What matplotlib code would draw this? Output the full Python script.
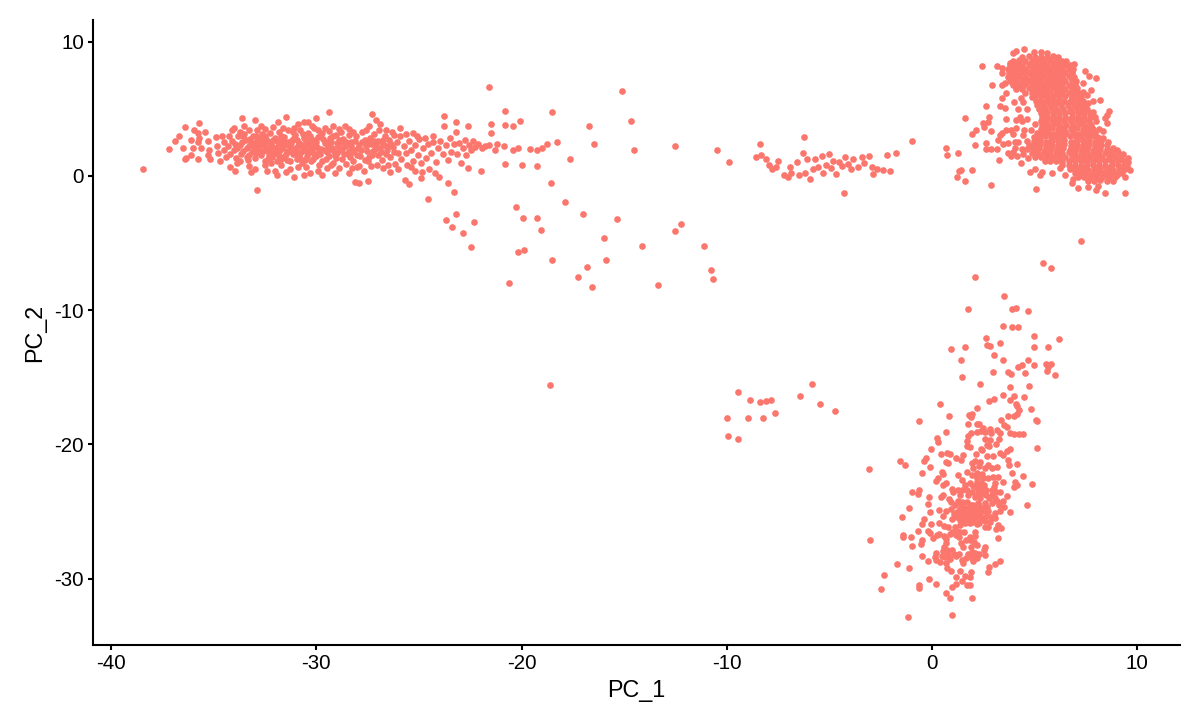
import numpy as np
import matplotlib
matplotlib.use("Agg")
import matplotlib.pyplot as plt

plt.rcParams['font.family'] = ['Liberation Sans', 'DejaVu Sans']
plt.rcParams['axes.unicode_minus'] = False

# points, (PC_1, PC_2), one list per region
band_edge = [
    (-38.46,0.55),(-37.2,2.04),(-36.9,2.63),(-36.7,2.98),(-36.4,3.65),(-36.5,2.09),(-36.4,1.24),(-36.35,1.37),
    (-36.1,2.68),(-35.95,3.4),(-35.7,3.98),(-35.75,3.18),(-35.7,2.8),(-35.77,2.51),(-36.0,2.09),(-35.6,2.06),
    (-36.1,1.57),(-35.75,1.27),(-35.4,3.25),(-35.3,2.6),(-35.25,1.9),(-35.3,1.55),(-35.2,1.25),(-34.9,2.9),
    (-34.85,2.2),(-34.8,1.7),(-34.7,1.1),(-34.6,3.0),(-34.5,2.5),(-34.5,1.95),(-34.4,1.4),(-34.2,0.7),(-34.1,3.4),
    (-34.0,3.6),(-33.85,0.95),(-33.95,0.4),(-33.6,4.3),(-33.5,3.7),(-33.3,0.75),(-33.2,0.3),(-33.0,4.15),(-32.9,-1.05),
    (-33.0,0.55),(-32.7,3.75),(-32.5,0.85),(-32.4,0.35),(-32.1,3.65),(-32.0,0.4),(-31.9,0.05),(-31.85,4.05),(-31.5,4.4),
    (-31.5,0.3),(-31.3,0.55),(-31.1,-0.1),(-30.9,3.9),(-30.6,4.05),(-30.6,0.1),(-30.3,0.2),(-30.4,4.0),(-30.0,4.3),
    (-29.9,0.35),(-29.7,0.05),(-29.6,3.6),(-29.4,4.75),(-29.2,3.75),(-29.1,0.2),(-28.9,0.6),(-28.6,3.7),(-28.4,3.5),
    (-28.4,0.25),(-28.1,-0.45),(-27.9,-0.5),(-27.9,0.75),(-27.5,-0.4),(-27.3,4.6),(-27.1,4.2),(-26.9,3.85),(-26.6,3.4),
    (-26.5,0.85),(-26.4,0.3),(-26.0,0.55),(-25.9,3.6),(-25.7,-0.3),(-25.5,-0.6),(-25.3,3.2),(-25.2,0.4),(-24.9,-0.15),
    (-24.85,0.3),(-24.7,2.8),(-24.5,0.55),(-24.3,3.0),(-24.2,0.2),(-24.0,-0.1),(-23.8,3.7),
    (-33.7,3.3),(-33.3,3.45),(-32.9,3.4),(-32.5,3.5),(-32.2,0.95),(-31.7,0.8),(-31.6,3.55),(-31.1,3.6),(-30.9,0.7),
    (-30.5,0.65),(-30.2,3.7),(-29.9,3.45),(-29.5,0.6),(-29.3,0.85),(-28.8,3.25),(-28.2,3.3),(-28.25,0.6),(-27.6,3.45),
    (-27.35,0.75),(-26.75,0.6),(-26.2,3.05),(-25.65,3.1),(-25.4,0.7),(-25.1,3.0),
]
band_core = [
    (-34.1,2.6),(-34.0,1.9),(-33.9,1.35),(-33.8,2.95),(-33.7,2.3),(-33.65,1.65),(-33.5,3.15),(-33.45,2.7),(-33.4,2.05),
    (-33.35,1.2),(-33.2,2.4),(-33.15,1.75),(-33.1,3.0),(-33.0,1.35),(-32.9,2.6),(-32.85,2.05),(-32.7,1.55),(-32.65,3.1),
    (-32.6,2.3),(-32.5,1.15),(-32.45,2.75),(-32.35,1.85),(-32.25,3.2),(-32.2,2.4),(-32.15,1.4),(-32.05,2.05),(-32.0,2.85),
    (-31.9,1.15),(-31.85,1.7),(-31.8,3.3),(-31.75,2.5),(-31.65,2.1),(-31.6,1.4),(-31.55,2.9),(-31.45,1.85),(-31.4,3.45),
    (-31.35,2.3),(-31.3,1.1),(-31.2,2.65),(-31.15,1.6),(-31.05,3.05),(-31.0,2.05),(-30.95,1.3),(-30.85,2.45),(-30.8,3.4),
    (-30.75,1.8),(-30.7,0.95),(-30.6,2.85),(-30.55,2.2),(-30.45,1.5),(-30.4,3.2),(-30.3,2.55),(-30.25,1.1),(-30.2,1.9),
    (-30.1,3.55),(-30.05,2.3),(-30.0,1.45),(-29.9,2.9),(-29.85,0.85),(-29.75,2.0),(-29.7,3.2),(-29.6,2.45),(-29.55,1.3),
    (-29.5,1.75),(-29.4,3.35),(-29.35,2.8),(-29.25,2.1),(-29.2,1.0),(-29.1,1.55),(-29.05,3.05),(-29.0,2.45),(-28.9,3.5),
    (-28.85,1.9),(-28.75,1.25),(-28.7,2.75),(-28.6,2.2),(-28.55,0.9),(-28.45,1.6),(-28.4,3.05),(-28.3,2.5),(-28.2,1.15),
    (-28.15,1.95),(-28.05,2.95),(-28.0,0.7),(-27.9,2.3),(-27.85,1.5),(-27.75,3.25),(-27.7,0.4),(-27.65,2.7),(-27.55,1.85),
    (-27.5,1.1),(-27.45,3.7),(-27.35,2.35),(-27.3,1.55),(-27.2,3.1),(-27.15,2.0),(-27.05,0.8),(-27.0,2.6),(-26.95,3.4),
    (-26.85,1.75),(-26.8,1.2),(-26.7,2.3),(-26.65,3.0),(-26.55,1.95),(-26.45,2.65),(-26.4,1.4),(-26.3,3.3),(-26.25,2.15),
    (-26.15,0.9),(-26.05,2.55),(-26.0,1.7),(-25.9,2.95),(-25.85,1.25),(-25.75,2.2),(-25.65,1.7),(-25.6,0.85),(-25.5,2.6),
    (-25.4,1.95),(-25.3,1.15),(-25.2,2.3),(-25.05,1.55),(-25.0,2.75),(-24.9,0.95),(-24.8,2.05),(-24.65,1.35),(-24.55,2.35),
    (-24.4,1.7),(-24.3,2.55),(-24.15,1.05),(-24.05,2.1),(-23.95,2.6),(-23.85,1.6),(-23.7,2.3),(-23.6,1.2),(-23.5,2.8),
    (-23.45,1.8),(-23.3,2.35),(-23.2,3.3),(-23.15,1.6),(-23.05,2.45),(-22.95,0.95),(-22.85,2.05),(-22.75,2.7),(-22.7,1.55),
    (-22.55,2.3),(-22.45,1.95),(-22.35,2.6),(-22.25,2.15),(-22.1,2.35),(-21.95,2.1),(-21.8,2.25),
]
band_dense = [
    (-33.85,2.1),(-33.6,2.55),(-33.3,1.55),(-33.25,2.75),(-33.0,2.25),(-32.8,1.8),(-32.75,2.85),(-32.55,2.55),(-32.4,2.05),
    (-32.3,1.55),(-32.1,2.65),(-31.95,1.95),(-31.85,2.25),(-31.7,1.3),(-31.6,2.7),(-31.5,1.65),(-31.25,2.1),(-31.1,2.85),
    (-31.0,1.6),(-30.9,2.25),(-30.65,1.95),(-30.5,2.6),(-30.35,1.75),(-30.15,2.7),(-29.95,2.15),(-29.8,1.6),(-29.65,2.75),
    (-29.45,2.2),(-29.3,2.55),(-29.15,1.85),(-28.95,2.2),(-28.8,2.55),(-28.65,1.65),(-28.5,2.35),(-28.25,1.75),(-28.1,2.6),
    (-27.95,2.1),(-27.6,2.2),(-27.4,2.85),(-27.25,1.85),(-27.1,2.3),(-26.9,2.1),(-26.75,2.7),(-26.6,1.6),(-26.35,2.35),
    (-33.1,2.45),(-32.95,1.7),(-32.2,1.8),(-31.8,1.5),(-31.4,2.55),(-30.8,1.35),(-30.15,1.3),(-29.05,1.35),(-28.35,1.4),
    (-33.55,1.85),(-33.4,1.4),(-33.3,2.25),(-33.05,2.05),(-32.95,2.95),(-32.75,2.35),(-32.6,1.85),(-32.5,2.95),(-32.35,1.25),
    (-32.3,2.55),(-32.15,2.15),(-32.0,1.7),(-31.9,2.6),(-31.75,1.9),(-31.7,3.0),(-31.55,2.3),(-31.45,1.2),(-31.3,1.85),
    (-31.25,2.45),(-31.15,3.3),(-31.05,1.9),(-30.95,2.65),(-30.85,1.6),(-30.7,2.3),(-30.65,3.1),(-30.5,1.85),(-30.45,2.35),
    (-30.3,2.95),(-30.25,2.05),(-30.1,1.6),(-30.0,2.5),(-29.85,1.85),(-29.8,3.0),(-29.6,1.95),(-29.55,2.55),(-29.4,1.45),
    (-29.3,2.0),(-29.2,2.95),(-29.0,1.7),(-28.9,2.7),(-28.75,2.0),(-28.55,2.5),(-28.4,1.85),(-28.3,2.2),(-28.0,1.55),
    (-27.8,1.95),(-27.75,2.55),(-27.55,2.5),(-27.45,1.4),(-27.2,2.6),(-27.0,1.55),(-26.8,2.5),(-26.5,2.2),(-26.2,1.75),
    (-34.3,2.2),(-34.2,1.6),(-34.25,2.95),(-33.95,2.4),(-33.7,1.15),(-33.55,2.95),(-30.55,1.2),(-29.7,1.15),(-27.65,1.2),
]
scatter_mid = [
    (-21.6,6.6),(-15.1,6.3),(-20.8,4.85),(-18.5,4.75),(-23.8,4.5),(-14.65,4.1),(-20.1,4.1),(-21.5,3.9),(-20.8,3.8),
    (-20.4,3.75),(-16.7,3.7),(-22.6,3.75),(-23.2,4.05),(-21.5,3.2),(-16.45,2.35),(-18.25,2.55),(-18.75,2.4),(-19.0,2.1),
    (-19.25,1.95),(-19.6,2.0),(-20.15,2.05),(-20.4,1.9),(-20.85,2.25),(-21.2,2.35),(-21.3,1.95),(-21.6,2.3),(-14.5,1.95),
    (-12.5,2.2),(-10.5,1.9),(-9.9,1.05),(-17.65,1.3),(-20.8,0.9),(-20.0,0.85),(-19.25,0.75),(-22.0,0.4),(-22.6,0.6),
    (-18.55,-0.55),(-23.6,-0.5),(-23.3,-1.2),(-24.55,-1.7),(-17.9,-1.95),(-20.25,-2.3),(-17.0,-2.8),(-23.2,-2.85),
    (-19.95,-3.1),(-19.25,-3.15),(-15.35,-3.2),(-23.7,-3.3),(-22.3,-3.4),(-23.4,-3.8),(-19.05,-4.05),(-12.25,-3.6),
    (-12.5,-4.1),(-22.85,-4.25),(-16.0,-4.6),(-22.45,-5.3),(-14.15,-5.2),(-11.1,-5.2),(-19.9,-5.5),(-20.15,-5.7),
    (-18.5,-6.3),(-15.9,-6.3),(-16.8,-6.8),(-10.75,-7.0),(-10.65,-7.65),(-17.25,-7.5),(-20.6,-7.95),(-16.55,-8.3),
    (-13.35,-8.15),(-18.6,-15.6),
]
ridge_mid = [
    (-8.4,2.4),(-8.35,1.55),(-8.1,1.25),(-7.95,0.85),(-7.6,0.7),(-7.5,1.15),(-7.2,0.1),(-7.0,-0.1),(-6.85,0.25),(-6.6,1.05),
    (-6.5,0.1),(-6.3,1.7),(-6.25,2.9),(-6.2,0.2),(-6.1,1.3),(-5.95,-0.25),(-5.8,0.55),(-5.7,1.3),(-5.55,0.7),(-5.35,1.45),
    (-5.3,0.2),(-5.15,0.85),(-5.0,1.6),(-4.9,0.6),(-4.7,0.15),(-4.55,1.05),(-4.4,0.75),(-4.3,-1.3),(-4.25,1.4),(-4.1,0.9),
    (-3.95,0.55),(-3.85,1.3),(-3.6,0.65),(-3.4,1.4),(-3.3,0.95),(-3.05,1.45),(-2.95,0.65),(-2.9,0.15),(-2.7,0.5),
    (-2.4,0.45),(-2.2,1.55),(-2.05,0.35),(-1.75,1.7),(-1.0,2.6),(-8.6,1.4),(-7.8,0.55),(-6.9,0.65),(-4.85,1.15),
]
island = [
    (-10.0,-18.05),(-9.45,-16.1),(-9.95,-19.4),(-9.45,-19.6),(-8.85,-16.7),(-8.95,-18.0),(-8.4,-16.85),(-8.1,-16.8),
    (-7.85,-16.7),(-8.25,-18.05),(-7.65,-17.65),(-6.45,-16.4),(-5.85,-15.5),(-5.45,-17.0),(-4.75,-17.5),
]
lower_upper = [
    (7.25,-4.85),(5.4,-6.5),(5.8,-6.85),(2.11,-7.52),(3.49,-8.91),(1.75,-9.88),(3.91,-9.91),(4.11,-9.83),(4.69,-10.06),
    (3.44,-11.17),(3.91,-11.25),(4.17,-11.25),(4.97,-11.89),(6.2,-12.14),(2.63,-12.07),(3.29,-12.46),(2.68,-12.56),
    (2.82,-12.64),(1.61,-12.74),(0.94,-12.89),(4.98,-12.74),(5.67,-12.74),(3.04,-13.36),(1.43,-13.68),(3.46,-13.73),
    (4.69,-13.73),(4.97,-14.08),(4.4,-14.08),(4.17,-14.2),(5.54,-14.03),(5.78,-14.0),(5.67,-14.2),(5.58,-14.5),
    (5.97,-14.82),(2.99,-14.63),(3.72,-14.63),(3.83,-14.78),(4.53,-14.68),(1.48,-15.0),(2.34,-15.5),(3.78,-15.72),
    (4.71,-15.62),(3.46,-16.34),(3.98,-16.41),(3.78,-16.66),(4.5,-16.44),(3.04,-16.61),(2.79,-16.76),(0.39,-16.96),
    (4.07,-16.99),(4.16,-17.13),(2.21,-17.28),(4.8,-17.38),(4.24,-17.43),(4.12,-17.76),(3.99,-17.86),(3.72,-17.88),
    (0.83,-17.86),(1.78,-17.78),(1.93,-17.73),(1.88,-17.93),(-0.64,-18.23),(5.05,-18.18),(5.1,-18.28),(3.38,-18.2),
    (1.77,-18.48),(2.21,-18.45),(2.29,-18.48),(3.49,-18.55),(3.64,-18.7),(2.5,-18.75),(2.84,-18.87),(3.18,-18.92),
    (0.7,-19.05),(2.21,-19.07),(2.37,-19.02),(2.58,-19.1),(2.87,-19.15),(3.31,-19.17),(3.8,-19.12),(3.99,-19.2),
    (4.22,-19.2),(4.43,-19.25),(1.88,-19.12),(1.77,-19.35),(0.23,-19.49),(0.31,-19.84),(2.58,-19.62),(2.82,-19.67),
    (3.26,-19.62),(3.1,-19.97),(1.72,-19.74),(1.69,-20.09),(1.85,-20.19),(2.66,-20.04),(2.78,-20.12),(-0.03,-20.36),
    (5.1,-20.29),(3.8,-20.31),(2.37,-20.36),
]
lower_main = [
    (-3.07,-21.83),(-1.56,-21.21),(-1.33,-21.56),(-0.29,-21.04),(-0.38,-21.26),(-0.1,-21.68),(-0.47,-22.13),(0.42,-20.69),
    (0.71,-20.61),(0.87,-20.71),(1.17,-21.01),(1.43,-21.19),(1.52,-20.79),(0.68,-21.28),(0.79,-21.36),(2.12,-20.71),
    (2.42,-20.42),(2.66,-20.84),(2.95,-20.89),(3.31,-20.61),(3.47,-20.79),(3.64,-20.49),(3.72,-21.16),(3.75,-21.56),
    (4.16,-21.46),(3.91,-22.15),(4.45,-22.35),(4.85,-22.97),(4.04,-22.77),(4.12,-23.02),(3.99,-23.17),(3.47,-22.8),
    (3.64,-23.82),(4.64,-24.54),(3.81,-25.06),(0.47,-22.03),(0.55,-22.2),(0.31,-22.53),(0.18,-22.7),(1.25,-22.3),
    (1.44,-22.65),(1.69,-22.03),(1.93,-21.41),(2.09,-21.21),(2.34,-21.28),(2.58,-21.78),(2.74,-21.53),(2.94,-21.78),
    (3.15,-21.66),(2.01,-21.78),(2.17,-22.15),(2.42,-22.2),(1.93,-22.28),(2.74,-22.53),(2.95,-22.45),(3.23,-22.4),
    (3.07,-22.9),(2.91,-23.4),(3.12,-23.52),(3.31,-23.57),(0.55,-23.02),(0.68,-22.9),(0.96,-23.32),(1.04,-23.52),
    (1.61,-23.02),(1.85,-22.85),(2.17,-22.77),(2.37,-22.9),(2.17,-23.27),(2.42,-23.27),(2.63,-23.4),(2.5,-23.64),
    (2.26,-23.64),(2.63,-23.77),(1.28,-23.4),(1.44,-23.4),(1.69,-23.4),(1.36,-23.77),(-0.99,-23.52),(-0.62,-23.37),
    (-0.67,-23.67),(-0.15,-23.94),(-0.2,-24.44),(-1.12,-24.74),(-0.1,-25.01),(-1.45,-25.38),(0.55,-23.77),(0.44,-23.89),
    (0.84,-24.09),(0.91,-24.31),(0.34,-24.91),(0.68,-24.96),(0.91,-24.79),(0.52,-25.33),(1.12,-24.51),(1.44,-24.27),
    (1.69,-24.27),(2.26,-24.34),(2.58,-24.39),(2.91,-24.39),(3.15,-24.22),(3.44,-24.22),(3.28,-24.51),(1.52,-24.64),
    (1.77,-24.76),(2.09,-24.76),(2.5,-24.76),(2.74,-24.94),(3.07,-25.09),(1.2,-25.01),(1.52,-25.09),(1.69,-25.01),
    (1.93,-25.13),(2.17,-25.13),(2.34,-25.26),(2.66,-25.26),(3.07,-25.46),(0.96,-25.53),(1.2,-25.43),(1.52,-25.38),
    (1.69,-25.51),(1.88,-25.58),(2.09,-25.51),(2.34,-25.63),(2.58,-25.71),(2.82,-25.76),(-0.39,-25.58),(-0.51,-25.93),
    (-0.03,-25.93),(0.36,-25.88),(-0.7,-26.43),(-0.18,-26.45),(-0.1,-26.63),(0.6,-26.08),(0.79,-26.18),(1.12,-26.18),
    (1.36,-26.0),(1.6,-25.88),(1.85,-25.88),(2.17,-25.93),(2.58,-26.18),(2.74,-26.13),(3.23,-26.03),(3.1,-26.33),
    (3.36,-26.25),(1.2,-26.43),(1.36,-26.5),(1.56,-26.53),(2.09,-26.5),(-1.4,-26.75),(-1.4,-26.92),(-1.01,-26.87),
    (-0.47,-27.12),(-0.54,-27.42),(-0.99,-27.57),(-3.02,-27.12),(0.03,-27.0),(0.23,-26.75),(0.36,-26.7),(0.58,-26.82),
    (0.68,-27.07),(0.87,-26.67),(1.33,-26.87),(1.85,-26.87),(2.09,-26.82),(1.85,-27.12),(3.23,-27.0),(0.68,-27.32),
    (1.41,-27.37),(1.49,-27.67),(2.19,-27.49),(1.88,-27.62),(2.58,-27.62),(2.53,-27.87),(0.58,-27.67),(0.74,-27.87),
    (0.55,-27.92),(1.93,-27.99),(2.09,-28.12),(2.56,-28.26),(-0.51,-28.34),(0.21,-28.12),(0.14,-28.41),(-0.18,-28.66),
    (0.19,-28.61),(0.39,-28.74),(0.63,-28.41),(0.79,-28.24),(1.09,-28.19),(0.87,-28.56),(0.68,-28.86),(1.44,-28.61),
    (1.65,-28.49),(1.93,-28.49),(2.17,-28.49),(2.01,-28.69),(1.52,-28.86),(3.33,-28.66),(3.07,-28.89),(2.77,-29.11),
    (2.73,-29.51),(-1.71,-28.94),(-1.14,-29.23),(0.74,-29.23),(0.91,-29.41),(1.36,-29.46),(1.88,-29.53),(1.85,-29.85),
    (1.17,-29.85),(1.6,-29.8),(1.44,-30.18),(-2.34,-29.75),(-0.15,-30.0),(0.18,-30.38),(-0.62,-30.48),(-0.65,-30.72),
    (-2.47,-30.75),(1.17,-30.4),(0.99,-30.6),(1.69,-30.5),(1.85,-30.5),(0.7,-31.1),(0.89,-31.42),(1.96,-31.44),
    (0.99,-32.74),(-1.17,-32.88),
]
lower_dense = [
    (1.35,-24.85),(1.6,-24.85),(1.85,-24.95),(2.0,-24.5),(2.2,-24.95),(2.4,-25.0),(2.6,-25.0),(1.35,-25.25),(1.75,-25.3),
    (2.0,-25.35),(2.2,-25.45),(2.45,-25.45),(1.05,-25.2),(1.35,-25.65),(1.55,-25.7),(1.75,-25.75),(1.95,-25.8),(2.3,-25.85),
    (2.6,-25.5),(2.85,-25.4),(1.4,-24.45),(1.9,-24.55),(2.3,-24.6),(2.7,-24.65),(1.25,-24.2),(2.1,-23.9),(2.35,-24.0),
    (2.75,-24.0),(2.55,-23.05),(2.2,-23.05),(2.35,-23.5),(3.0,-23.2),(1.15,-26.75),(0.95,-26.5),(1.65,-27.15),(2.05,-27.3),
    (0.95,-27.9),(1.15,-28.35),(1.75,-28.15),(2.3,-28.15),(1.3,-28.2),(0.5,-28.3),
    (2.3,-21.6),(2.5,-22.5),(2.2,-22.5),(2.0,-23.1),(1.75,-23.75),(2.9,-23.75),(3.05,-24.0),(1.95,-23.55),(3.3,-25.0),(3.5,-24.7),
]
blob_fringe = [
    (2.44,8.17),(2.94,6.78),(2.63,5.24),(1.59,4.33),(2.79,4.42),(2.5,3.95),(2.71,4.05),(2.52,3.63),(2.16,3.46),(1.93,3.16),
    (2.87,3.36),(2.08,2.34),(2.65,2.44),(2.61,2.01),(2.86,1.99),(3.15,2.01),(0.7,2.06),(0.75,1.54),(1.25,1.74),(3.26,1.22),
    (1.93,0.43),(1.41,0.47),(1.32,0.37),(1.2,-0.05),(1.59,-0.37),(2.89,-0.69),(5.05,-0.94),(4.32,0.95),(4.79,0.28),(5.02,0.5),
    (5.26,0.05),(5.34,0.28),(5.83,0.23),(6.48,0.08),(6.8,-0.54),(6.89,-0.22),(7.11,-0.92),(7.58,-0.79),(7.97,-1.04),(8.07,-0.72),
    (8.43,-1.26),(9.42,-1.26),(9.4,-0.1),(9.65,0.43),(6.24,0.62),(3.39,5.79),(3.59,6.16),(3.31,5.24),(3.54,5.1),(3.98,5.49),
    (4.21,5.02),(4.34,5.79),(4.45,5.54),(4.63,4.99),(3.59,4.25),(4.09,4.18),(4.29,4.42),(4.37,4.1),(4.61,4.23),(5.02,3.9),
    (3.59,3.43),(3.39,3.18),(3.31,3.06),(3.83,3.43),(4.09,3.55),(3.96,3.13),(4.48,3.43),(4.45,3.06),(4.81,3.43),(3.23,2.69),
    (3.44,2.36),(3.72,2.44),(4.04,2.51),(4.21,2.51),(4.04,2.06),(4.37,2.01),(3.72,1.69),(3.83,1.52),(4.16,1.52),(4.42,1.62),
    (4.69,1.32),(3.96,1.77),(3.18,8.2),(3.39,8.03),(3.43,7.65),(3.39,6.78),(3.56,6.91),(3.93,9.14),(4.09,9.32),(4.48,9.47),
    (3.8,8.4),(6.92,8.32),(7.44,7.83),(7.65,7.45),(7.97,7.3),(7.37,6.96),(7.76,6.44),(7.37,6.29),(7.54,6.04),(8.17,5.67),
    (7.83,5.57),(7.62,5.47),(8.61,4.85),(8.54,4.55),(8.43,4.35),(8.51,3.98),(7.86,4.8),(7.94,4.42),(7.99,4.13),(7.73,3.68),
    (8.14,3.48),(8.35,3.36),(8.02,2.93),(8.35,2.81),(8.59,2.51),
]
blob_core = [
    (4.95,9.2),(5.3,9.25),(5.6,9.15),
    (4.4,8.9),(4.7,8.95),(5.0,8.85),(5.3,8.9),(5.6,8.85),(5.9,8.95),(6.15,8.85),
    (3.95,8.6),(4.25,8.65),(4.55,8.55),(4.85,8.6),(5.15,8.6),(5.45,8.55),(5.75,8.65),(6.05,8.55),(6.35,8.6),(6.55,8.55),
    (3.8,8.3),(4.1,8.25),(4.4,8.3),(4.7,8.3),(5.0,8.25),(5.3,8.3),(5.6,8.3),(5.9,8.25),(6.2,8.3),(6.5,8.3),(6.72,8.25),
    (3.7,8.0),(3.95,8.0),(4.25,8.05),(4.55,7.95),(4.85,8.0),(5.15,8.0),(5.45,8.05),(5.75,7.95),(6.05,8.0),(6.35,8.0),(6.65,7.95),(6.85,8.0),
    (3.75,7.7),(4.1,7.7),(4.4,7.75),(4.7,7.65),(5.0,7.7),(5.3,7.7),(5.6,7.75),(5.9,7.65),(6.2,7.7),(6.5,7.7),(6.8,7.7),
    (3.7,7.4),(3.95,7.4),(4.25,7.45),(4.55,7.35),(4.85,7.4),(5.15,7.4),(5.45,7.45),(5.75,7.35),(6.05,7.4),(6.35,7.4),(6.65,7.45),(6.92,7.35),
    (3.8,7.1),(4.1,7.1),(4.4,7.15),(4.7,7.05),(5.0,7.1),(5.3,7.1),(5.6,7.15),(5.9,7.05),(6.2,7.1),(6.5,7.1),(6.8,7.15),(7.02,7.05),
    (3.95,6.8),(4.25,6.8),(4.55,6.85),(4.85,6.75),(5.15,6.8),(5.45,6.8),(5.75,6.85),(6.05,6.75),(6.35,6.8),(6.65,6.8),(6.95,6.85),
    (4.1,6.5),(4.4,6.5),(4.7,6.55),(5.0,6.45),(5.3,6.5),(5.6,6.5),(5.9,6.55),(6.2,6.45),(6.5,6.5),(6.8,6.5),(7.05,6.55),
    (4.55,6.2),(4.85,6.2),(5.15,6.25),(5.45,6.15),(5.75,6.2),(6.05,6.2),(6.35,6.25),(6.65,6.15),(6.95,6.2),(7.15,6.2),
    (4.85,5.9),(5.0,5.9),(5.3,5.95),(5.6,5.85),(5.9,5.9),(6.2,5.9),(6.5,5.95),(6.8,5.85),(7.1,5.9),(7.28,5.9),
    (5.05,5.6),(5.25,5.6),(5.55,5.65),(5.85,5.55),(6.15,5.6),(6.45,5.6),(6.75,5.65),(7.05,5.55),(7.35,5.6),
    (5.1,5.3),(5.4,5.3),(5.7,5.35),(6.0,5.25),(6.3,5.3),(6.6,5.3),(6.9,5.35),(7.2,5.25),(7.45,5.3),
    (5.2,5.0),(5.5,5.0),(5.8,5.05),(6.1,4.95),(6.4,5.0),(6.7,5.0),(7.0,5.05),(7.3,4.95),(7.55,5.0),
    (5.3,4.7),(5.6,4.7),(5.9,4.75),(6.2,4.65),(6.5,4.7),(6.8,4.7),(7.1,4.75),(7.4,4.65),(7.68,4.7),
    (5.35,4.4),(5.6,4.4),(5.9,4.45),(6.2,4.35),(6.5,4.4),(6.8,4.4),(7.1,4.45),(7.4,4.35),(7.7,4.4),
    (5.3,4.1),(5.55,4.1),(5.85,4.15),(6.15,4.05),(6.45,4.1),(6.75,4.1),(7.05,4.15),(7.35,4.05),(7.65,4.1),
    (5.35,3.8),(5.65,3.8),(5.95,3.85),(6.25,3.75),(6.55,3.8),(6.85,3.8),(7.15,3.85),(7.45,3.75),(7.72,3.8),
    (5.3,3.5),(5.55,3.5),(5.85,3.55),(6.15,3.45),(6.45,3.5),(6.75,3.5),(7.05,3.55),(7.35,3.45),(7.65,3.5),(7.85,3.5),
    (5.1,3.2),(5.35,3.2),(5.65,3.25),(5.95,3.15),(6.25,3.2),(6.55,3.2),(6.85,3.25),(7.15,3.15),(7.45,3.2),(7.75,3.2),(7.95,3.2),
    (4.95,2.9),(5.2,2.9),(5.5,2.95),(5.8,2.85),(6.1,2.9),(6.4,2.9),(6.7,2.95),(7.0,2.85),(7.3,2.9),(7.6,2.9),(7.9,2.95),(8.12,2.85),
    (4.65,2.6),(4.95,2.6),(5.25,2.65),(5.55,2.55),(5.85,2.6),(6.15,2.6),(6.45,2.65),(6.75,2.55),(7.05,2.6),(7.35,2.6),(7.65,2.65),(7.95,2.55),(8.25,2.6),
    (4.7,2.3),(4.95,2.3),(5.25,2.35),(5.55,2.25),(5.85,2.3),(6.15,2.3),(6.45,2.35),(6.75,2.25),(7.05,2.3),(7.35,2.3),(7.65,2.35),(7.95,2.25),(8.25,2.3),(8.5,2.3),
    (4.65,2.0),(4.9,2.0),(5.2,2.05),(5.5,1.95),(5.8,2.0),(6.1,2.0),(6.4,2.05),(6.7,1.95),(7.0,2.0),(7.3,2.0),(7.6,2.05),(7.9,1.95),(8.2,2.0),(8.5,2.0),(8.8,2.05),(9.0,1.95),
    (4.85,1.7),(5.15,1.7),(5.45,1.75),(5.75,1.65),(6.05,1.7),(6.35,1.7),(6.65,1.75),(6.95,1.65),(7.25,1.7),(7.55,1.7),(7.85,1.75),(8.15,1.65),(8.45,1.7),(8.75,1.7),(9.05,1.75),(9.3,1.65),
    (5.0,1.4),(5.3,1.4),(5.6,1.45),(5.9,1.35),(6.2,1.4),(6.5,1.4),(6.8,1.45),(7.1,1.35),(7.4,1.4),(7.7,1.4),(8.0,1.45),(8.3,1.35),(8.6,1.4),(8.9,1.4),(9.2,1.45),(9.55,1.35),
    (5.5,1.1),(5.75,1.1),(6.05,1.15),(6.35,1.05),(6.65,1.1),(6.95,1.1),(7.25,1.15),(7.55,1.05),(7.85,1.1),(8.15,1.1),(8.45,1.15),(8.75,1.05),(9.05,1.1),(9.35,1.1),(9.55,1.05),
    (6.35,0.8),(6.65,0.8),(6.95,0.85),(7.25,0.75),(7.55,0.8),(7.85,0.8),(8.15,0.85),(8.45,0.75),(8.75,0.8),(9.05,0.8),(9.35,0.85),(9.5,0.75),
    (6.7,0.5),(7.0,0.5),(7.3,0.55),(7.6,0.45),(7.9,0.5),(8.2,0.5),(8.5,0.55),(8.8,0.45),(9.1,0.5),(9.4,0.5),
    (6.95,0.2),(7.2,0.2),(7.5,0.25),(7.8,0.15),(8.1,0.2),(8.4,0.2),(8.7,0.25),(9.0,0.15),(9.25,0.2),
    (7.1,-0.1),(7.4,-0.1),(7.7,-0.05),(8.0,-0.15),(8.3,-0.1),(8.6,-0.1),(8.9,-0.05),
    (7.6,-0.35),(7.9,-0.35),(8.2,-0.3),(8.5,-0.4),(8.8,-0.35),
]
blob_fill = [
    (4.2,8.45),(4.8,8.45),(5.4,8.45),(6.0,8.45),(6.5,8.45),(4.0,7.85),(4.6,7.85),(5.2,7.85),(5.8,7.85),(6.4,7.85),(6.8,7.85),
    (4.0,7.25),(4.6,7.25),(5.2,7.25),(5.8,7.25),(6.4,7.25),(6.8,7.25),(4.4,6.65),(5.0,6.65),(5.6,6.65),(6.2,6.65),(6.8,6.65),
    (5.0,6.05),(5.6,6.05),(6.2,6.05),(6.8,6.05),(5.4,5.45),(6.0,5.45),(6.6,5.45),(7.2,5.45),(5.5,4.85),(6.1,4.85),(6.7,4.85),
    (7.3,4.85),(5.5,4.25),(6.1,4.25),(6.7,4.25),(7.3,4.25),(5.6,3.65),(6.2,3.65),(6.8,3.65),(7.4,3.65),(5.2,3.05),(5.8,3.05),
    (6.4,3.05),(7.0,3.05),(7.6,3.05),(5.0,2.45),(5.6,2.45),(6.2,2.45),(6.8,2.45),(7.4,2.45),(8.0,2.45),(5.0,1.85),(5.6,1.85),
    (6.2,1.85),(6.8,1.85),(7.4,1.85),(8.0,1.85),(8.6,1.85),(5.6,1.25),(6.2,1.25),(6.8,1.25),(7.4,1.25),(8.0,1.25),(8.6,1.25),
    (9.2,1.25),(6.8,0.65),(7.4,0.65),(8.0,0.65),(8.6,0.65),(9.2,0.65),(7.3,0.05),(7.9,0.05),(8.5,0.05),(9.0,0.05),
]

regions = [band_edge, band_core, band_dense, scatter_mid, ridge_mid, island,
           lower_upper, lower_main, lower_dense, blob_fringe, blob_core, blob_fill]
pts = np.array([p for region in regions for p in region])

fig = plt.figure(figsize=(12, 7.2), dpi=100)
ax = fig.add_axes([93/1200, 1 - 645/720, (1180 - 93)/1200, (645 - 20)/720])

ax.scatter(pts[:, 0], pts[:, 1], s=23, c='#FB766D', linewidths=0)

ax.set_xlim(-40.88, 12.08)
ax.set_ylim(-34.95, 11.62)
ax.set_xticks([-40, -30, -20, -10, 0, 10])
ax.set_yticks([-30, -20, -10, 0, 10])
ax.tick_params(labelsize=14.8, length=3.5, width=1.5, colors='black', pad=3)
ax.set_xlabel('PC_1', fontsize=16.8, labelpad=4.5)
ax.set_ylabel('PC_2', fontsize=16.8, labelpad=6)

ax.spines['top'].set_visible(False)
ax.spines['right'].set_visible(False)
ax.spines['left'].set_linewidth(1.5)
ax.spines['bottom'].set_linewidth(1.5)

fig.savefig('out.png', dpi=100)
